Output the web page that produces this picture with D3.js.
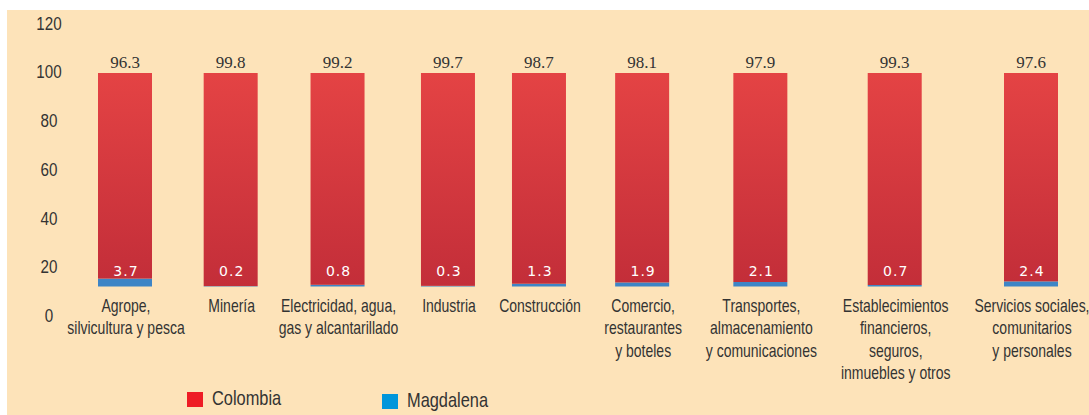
<!DOCTYPE html>
<html>
<head>
<meta charset="utf-8">
<script src="https://cdn.jsdelivr.net/npm/d3@7"></script>
<style>
  body { margin: 0; background: #fff; }
  svg { display: block; }
  .lbl { font-family: "Liberation Sans Narrow", "Liberation Sans", Arial, sans-serif; fill: #333; }
</style>
</head>
<body>
<svg id="chart"></svg>
<script>
// sector names, one entry per bar (each entry = lines of the label)
var sectors = [
    ["Agrope,", "silvicultura y pesca"],
    ["Minería"],
    ["Electricidad, agua,", "gas y alcantarillado"],
    ["Industria"],
    ["Construcción"],
    ["Comercio,", "restaurantes", "y boteles"],
    ["Transportes,", "almacenamiento", "y comunicaciones"],
    ["Establecimientos", "financieros,", "seguros,", "inmuebles y otros"],
    ["Servicios sociales,", "comunitarios", "y personales"]
];
var colombia = [96.3, 99.8, 99.2, 99.7, 98.7, 98.1, 97.9, 99.3, 97.6];
var magdalena = [3.7, 0.2, 0.8, 0.3, 1.3, 1.9, 2.1, 0.7, 2.4];
var yTicks = [0, 20, 40, 60, 80, 100, 120];
var seriesNames = ["Colombia", "Magdalena"];

var width = 1089, height = 415;
var narrow = 0.8; // squeeze sans text to look like a narrow face
var svg = d3.select("#chart").attr("width", width).attr("height", height);

// beige panel
svg.append("rect").attr("x", 7).attr("y", 10)
    .attr("width", width - 7).attr("height", height - 10)
    .attr("fill", "#fde3b9");

// red gradient for the bars
var grad = svg.append("defs").append("linearGradient")
    .attr("id", "red").attr("x1", 0).attr("y1", 0).attr("x2", 0).attr("y2", 1);
grad.append("stop").attr("offset", "0%").attr("stop-color", "#e44344");
grad.append("stop").attr("offset", "100%").attr("stop-color", "#c32e39");

// axis labels scale (0..120)
var yAxisScale = d3.scaleLinear().domain([0, 120]).range([315.5, 23]);
// bar scale (stack share 0..100)
var yBar = d3.scaleLinear().domain([0, 100]).range([286.5, 73]);

// y axis: labels only
var axis = svg.append("g")
    .attr("transform", "translate(49,0)")
    .call(d3.axisLeft(yAxisScale).tickValues(yTicks).tickSize(0).tickPadding(0));
axis.select(".domain").remove();
axis.selectAll("text")
    .attr("class", "lbl")
    .attr("x", 0)
    .attr("text-anchor", "middle")
    .attr("font-size", 19)
    .attr("transform", "scale(" + narrow + ",1)")
    .style("fill", "#333");

// category labels, drawn first so their widths set the spacing
var lineH = 22.5;
var labelG = svg.append("g").selectAll("g")
    .data(sectors)
    .enter().append("g");
var labels = labelG.append("text")
    .attr("class", "lbl")
    .attr("font-size", 17.5)
    .attr("text-anchor", "middle")
    .attr("transform", "scale(" + narrow + ",1)")
    .attr("y", 312);
labels.selectAll("tspan")
    .data(function (d) { return d; })
    .enter().append("tspan")
    .attr("x", 0)
    .attr("dy", function (d, i) { return i === 0 ? 0 : lineH; })
    .text(function (d) { return d; });

var widths = [];
labels.each(function () { widths.push(this.getBBox().width * narrow); });
var pos = [0];
for (var i = 1; i < widths.length; i++) {
    pos.push(pos[i - 1] + (widths[i - 1] + widths[i]) / 2 + 22);
}
var fit = d3.scaleLinear().domain([pos[0], pos[pos.length - 1]]).range([125, 1031]);
var x = d3.scaleOrdinal().domain(d3.range(sectors.length)).range(pos.map(fit));

labelG.attr("transform", function (d, i) { return "translate(" + (x(i) + 1) + ",0)"; });

var barW = 54;
var rows = colombia.map(function (c, i) { return { i: i, Colombia: c, Magdalena: magdalena[i] }; });
var stack = d3.stack().keys(["Magdalena", "Colombia"])(rows);
var colors = { Colombia: "url(#red)", Magdalena: "#3d85c6" };

svg.append("g").selectAll("g")
    .data(stack)
    .enter().append("g")
    .attr("fill", function (s) { return colors[s.key]; })
    .selectAll("rect")
    .data(function (s) { return s; })
    .enter().append("rect")
    .attr("x", function (d) { return x(d.data.i) - barW / 2; })
    .attr("width", barW)
    .attr("y", function (d) { return yBar(d[1]); })
    .attr("height", function (d) { return yBar(d[0]) - yBar(d[1]); });

// Colombia values above the bars
svg.append("g").selectAll("text")
    .data(rows)
    .enter().append("text")
    .attr("x", function (d) { return x(d.i); })
    .attr("y", function (d) { return yBar(d.Colombia + d.Magdalena) - 5; })
    .attr("text-anchor", "middle")
    .attr("font-family", "'Liberation Serif', serif")
    .attr("font-size", 17)
    .attr("fill", "#333")
    .text(function (d) { return d.Colombia.toFixed(1); });

// Magdalena values inside the bars
svg.append("g").selectAll("text")
    .data(rows)
    .enter().append("text")
    .attr("x", function (d) { return x(d.i) + 1; })
    .attr("y", yBar(0) - 11)
    .attr("text-anchor", "middle")
    .attr("font-family", "'DejaVu Sans', sans-serif")
    .attr("font-size", 14)
    .attr("letter-spacing", 1)
    .attr("fill", "#fff")
    .text(function (d) { return d.Magdalena.toFixed(1); });

// legend
var legendColors = ["#ee1c25", "#0096db"];
var legendX = [187, 382];
var leg = svg.append("g").selectAll("g")
    .data(seriesNames)
    .enter().append("g")
    .attr("transform", function (d, i) { return "translate(" + legendX[i] + "," + (392 + i * 2) + ")"; });
leg.append("rect").attr("width", 16).attr("height", 15)
    .attr("fill", function (d, i) { return legendColors[i]; });
leg.append("g").attr("transform", "translate(25,13)")
    .append("text")
    .attr("class", "lbl")
    .attr("transform", "scale(" + narrow + ",1)")
    .attr("font-size", 20.5)
    .text(function (d) { return d; });
</script>
</body>
</html>
